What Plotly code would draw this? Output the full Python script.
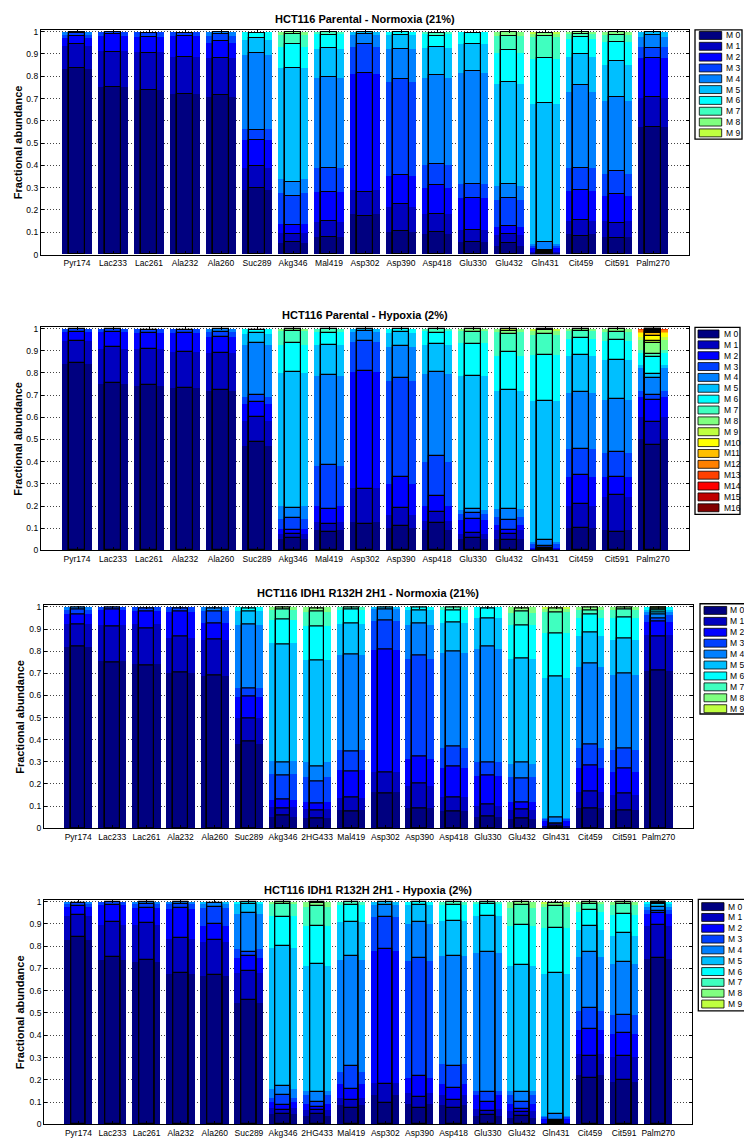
import plotly.graph_objects as go

# ---------------- data ----------------
CATS_A = ["Pyr174", "Lac233", "Lac261", "Ala232", "Ala260", "Suc289", "Akg346", "Mal419",
          "Asp302", "Asp390", "Asp418", "Glu330", "Glu432", "Gln431", "Cit459", "Cit591", "Palm270"]
CATS_B = ["Pyr174", "Lac233", "Lac261", "Ala232", "Ala260", "Suc289", "Akg346", "2HG433", "Mal419",
          "Asp302", "Asp390", "Asp418", "Glu330", "Glu432", "Gln431", "Cit459", "Cit591", "Palm270"]

TITLES = ["HCT116 Parental - Normoxia (21%)",
          "HCT116 Parental - Hypoxia (2%)",
          "HCT116 IDH1 R132H 2H1 - Normoxia (21%)",
          "HCT116 IDH1 R132H 2H1 - Hypoxia (2%)"]
Y_TITLE = "Fractional abundance"
ISO_LABELS = ["M 0", "M 1", "M 2", "M 3", "M 4", "M 5", "M 6", "M 7", "M 8", "M 9",
              "M10", "M11", "M12", "M13", "M14", "M15", "M16"]
Y_TICKS = [0, 0.1, 0.2, 0.3, 0.4, 0.5, 0.6, 0.7, 0.8, 0.9, 1]
Y_TICK_TEXT = ["0", "0.1", "0.2", "0.3", "0.4", "0.5", "0.6", "0.7", "0.8", "0.9", "1"]
TOTAL = 1.0  # every isotopologue distribution sums to 1

# Cumulative fractional abundance (top of M0, M0+M1, ...) per metabolite.
# "WIDE" = broad background bars, "NARROW" = outlined inner bars.
P1_WIDE = [
    [0.83, 0.935, 0.97, 0.985, 0.996],
    [0.751, 0.911, 0.98, 0.996],
    [0.74, 0.908, 0.975, 0.996],
    [0.72, 0.885, 0.98, 0.996],
    [0.707, 0.882, 0.95, 0.98, 0.996],
    [0.29, 0.39, 0.515, 0.565, 0.895, 0.96, 0.996],
    [0.05, 0.095, 0.135, 0.275, 0.34, 0.835, 0.93, 0.985, 0.996],
    [0.077, 0.145, 0.28, 0.39, 0.79, 0.92, 0.99, 0.996],
    [0.18, 0.29, 0.81, 0.93, 0.985, 0.996],
    [0.1, 0.215, 0.35, 0.775, 0.92, 0.985, 0.996],
    [0.09, 0.18, 0.3, 0.4, 0.79, 0.925, 0.99, 0.996],
    [0.055, 0.11, 0.255, 0.315, 0.815, 0.945, 0.996],
    [0.04, 0.085, 0.125, 0.245, 0.305, 0.765, 0.905, 0.98, 0.996],
    [0.004, 0.01, 0.03, 0.04, 0.045, 0.673, 0.878, 0.975, 0.99, 0.996],
    [0.09, 0.15, 0.285, 0.39, 0.73, 0.885, 0.965, 0.99, 0.996],
    [0.08, 0.15, 0.26, 0.36, 0.69, 0.85, 0.955, 0.985, 0.996],
    [0.571, 0.704, 0.88, 0.93, 0.975, 0.996],
]
P1_NARROW = [
    [0.838, 0.942, 0.982, 0.993, 0.998],
    [0.753, 0.909, 0.987, 0.997],
    [0.738, 0.906, 0.976, 0.993],
    [0.722, 0.888, 0.982, 0.995],
    [0.717, 0.883, 0.956, 0.99, 0.997],
    [0.298, 0.397, 0.513, 0.56, 0.902, 0.971, 0.995],
    [0.055, 0.093, 0.133, 0.263, 0.325, 0.837, 0.943, 0.99, 0.998],
    [0.078, 0.148, 0.282, 0.388, 0.798, 0.927, 0.985, 0.997],
    [0.174, 0.28, 0.812, 0.942, 0.99, 0.997],
    [0.105, 0.227, 0.355, 0.785, 0.922, 0.985, 0.997],
    [0.1, 0.18, 0.31, 0.405, 0.807, 0.93, 0.98, 0.995],
    [0.056, 0.11, 0.255, 0.317, 0.822, 0.942, 0.995],
    [0.05, 0.09, 0.128, 0.255, 0.318, 0.773, 0.917, 0.98, 0.997],
    [0.005, 0.012, 0.016, 0.02, 0.055, 0.68, 0.881, 0.98, 0.995],
    [0.082, 0.155, 0.287, 0.39, 0.759, 0.9, 0.975, 0.99, 0.998],
    [0.073, 0.143, 0.27, 0.375, 0.705, 0.87, 0.955, 0.985, 0.998],
    [0.573, 0.708, 0.882, 0.926, 0.985, 0.997],
]

P2_WIDE = [
    [0.839, 0.943, 0.984, 0.996],
    [0.75, 0.909, 0.985, 0.996],
    [0.742, 0.906, 0.98, 0.996],
    [0.73, 0.894, 0.98, 0.996],
    [0.717, 0.888, 0.96, 0.985, 0.996],
    [0.47, 0.585, 0.66, 0.69, 0.925, 0.975, 0.996],
    [0.05, 0.075, 0.095, 0.14, 0.2, 0.8, 0.925, 0.99, 0.996],
    [0.09, 0.13, 0.2, 0.38, 0.785, 0.925, 0.985, 0.996],
    [0.13, 0.28, 0.805, 0.94, 0.985, 0.996],
    [0.1, 0.16, 0.3, 0.763, 0.917, 0.98, 0.996],
    [0.092, 0.133, 0.2, 0.398, 0.793, 0.927, 0.987, 0.996],
    [0.05, 0.072, 0.137, 0.165, 0.18, 0.785, 0.935, 0.99, 0.996],
    [0.05, 0.09, 0.115, 0.15, 0.185, 0.72, 0.876, 0.985, 0.996],
    [0.003, 0.005, 0.01, 0.03, 0.04, 0.675, 0.879, 0.973, 0.99, 0.996],
    [0.1, 0.2, 0.33, 0.455, 0.71, 0.875, 0.955, 0.99, 0.996],
    [0.09, 0.24, 0.33, 0.44, 0.68, 0.86, 0.945, 0.985, 0.996],
    [0.502, 0.602, 0.693, 0.718, 0.82, 0.835, 0.89, 0.905, 0.95, 0.96, 0.978, 0.986, 0.992, 0.996],
]
P2_NARROW = [
    [0.843, 0.945, 0.985, 0.996],
    [0.756, 0.916, 0.985, 0.997],
    [0.745, 0.909, 0.98, 0.995],
    [0.733, 0.894, 0.98, 0.995],
    [0.723, 0.889, 0.96, 0.985, 0.997],
    [0.489, 0.6, 0.67, 0.7, 0.933, 0.98, 0.995],
    [0.057, 0.073, 0.093, 0.145, 0.192, 0.804, 0.933, 0.99, 0.997],
    [0.083, 0.12, 0.188, 0.383, 0.79, 0.925, 0.982, 0.996],
    [0.12, 0.278, 0.81, 0.942, 0.99, 0.997],
    [0.112, 0.189, 0.331, 0.775, 0.92, 0.984, 0.997],
    [0.122, 0.171, 0.244, 0.425, 0.803, 0.931, 0.979, 0.996],
    [0.057, 0.078, 0.142, 0.17, 0.186, 0.786, 0.932, 0.983, 0.996],
    [0.049, 0.072, 0.091, 0.136, 0.186, 0.723, 0.894, 0.976, 0.991, 0.998],
    [0.005, 0.01, 0.012, 0.02, 0.049, 0.675, 0.879, 0.975, 0.993, 0.998],
    [0.1, 0.211, 0.342, 0.457, 0.715, 0.882, 0.957, 0.99, 0.998],
    [0.085, 0.252, 0.331, 0.443, 0.681, 0.86, 0.95, 0.984, 0.997],
    [0.475, 0.577, 0.676, 0.70, 0.778, 0.793, 0.87, 0.885, 0.935, 0.946, 0.968, 0.978,
     0.985, 0.99, 0.994, 0.997, 0.999],
]

P3_WIDE = [
    [0.815, 0.919, 0.965, 0.985, 0.996],
    [0.754, 0.918, 0.985, 0.996],
    [0.742, 0.92, 0.978, 0.996],
    [0.698, 0.86, 0.975, 0.996],
    [0.684, 0.848, 0.925, 0.98, 0.996],
    [0.38, 0.495, 0.59, 0.63, 0.915, 0.98, 0.996],
    [0.05, 0.095, 0.125, 0.245, 0.303, 0.833, 0.94, 0.985, 0.996],
    [0.045, 0.085, 0.115, 0.23, 0.295, 0.76, 0.91, 0.975, 0.996],
    [0.08, 0.135, 0.26, 0.35, 0.78, 0.92, 0.985, 0.996],
    [0.161, 0.25, 0.805, 0.935, 0.99, 0.996],
    [0.09, 0.19, 0.31, 0.765, 0.915, 0.985, 0.996],
    [0.075, 0.14, 0.27, 0.36, 0.79, 0.925, 0.985, 0.996],
    [0.05, 0.1, 0.235, 0.295, 0.81, 0.95, 0.996],
    [0.04, 0.08, 0.115, 0.23, 0.29, 0.765, 0.915, 0.97, 0.996],
    [0.004, 0.01, 0.03, 0.04, 0.045, 0.676, 0.88, 0.975, 0.99, 0.996],
    [0.09, 0.16, 0.27, 0.36, 0.728, 0.865, 0.95, 0.985, 0.996],
    [0.08, 0.15, 0.25, 0.35, 0.69, 0.85, 0.95, 0.985, 0.996],
    [0.71, 0.87, 0.93, 0.96, 0.975, 0.985, 0.996],
]
P3_NARROW = [
    [0.821, 0.92, 0.965, 0.99, 0.997],
    [0.748, 0.912, 0.988, 0.997],
    [0.737, 0.905, 0.978, 0.995],
    [0.703, 0.866, 0.978, 0.993],
    [0.69, 0.855, 0.927, 0.982, 0.995],
    [0.39, 0.495, 0.595, 0.633, 0.92, 0.98, 0.995],
    [0.057, 0.09, 0.128, 0.237, 0.297, 0.832, 0.943, 0.99, 0.997],
    [0.045, 0.08, 0.113, 0.212, 0.277, 0.76, 0.912, 0.982, 0.995],
    [0.075, 0.138, 0.255, 0.347, 0.787, 0.924, 0.988, 0.997],
    [0.158, 0.254, 0.806, 0.938, 0.99, 0.997],
    [0.087, 0.2, 0.325, 0.78, 0.925, 0.985, 0.997],
    [0.077, 0.14, 0.278, 0.37, 0.8, 0.93, 0.985, 0.997],
    [0.055, 0.107, 0.237, 0.297, 0.82, 0.948, 0.993],
    [0.045, 0.085, 0.115, 0.227, 0.298, 0.766, 0.918, 0.982, 0.995],
    [0.005, 0.01, 0.015, 0.02, 0.049, 0.684, 0.88, 0.975, 0.993],
    [0.091, 0.164, 0.285, 0.38, 0.745, 0.885, 0.967, 0.985, 0.997],
    [0.082, 0.157, 0.27, 0.36, 0.70, 0.86, 0.955, 0.99, 0.997],
    [0.713, 0.865, 0.935, 0.95, 0.965, 0.975, 0.985, 0.99, 0.994, 0.997, 0.999],
]

P4_WIDE = [
    [0.829, 0.933, 0.975, 0.99, 0.996],
    [0.74, 0.896, 0.985, 0.996],
    [0.727, 0.895, 0.97, 0.99, 0.996],
    [0.676, 0.83, 0.965, 0.99, 0.996],
    [0.665, 0.82, 0.89, 0.97, 0.99, 0.996],
    [0.545, 0.68, 0.745, 0.785, 0.945, 0.99, 0.996],
    [0.045, 0.075, 0.1, 0.12, 0.16, 0.792, 0.935, 0.99, 0.996],
    [0.04, 0.065, 0.09, 0.13, 0.15, 0.713, 0.89, 0.975, 0.996],
    [0.085, 0.12, 0.18, 0.235, 0.74, 0.91, 0.985, 0.996],
    [0.13, 0.185, 0.78, 0.93, 0.985, 0.996],
    [0.09, 0.14, 0.21, 0.733, 0.9, 0.985, 0.996],
    [0.085, 0.13, 0.18, 0.27, 0.755, 0.915, 0.985, 0.996],
    [0.04, 0.07, 0.13, 0.15, 0.77, 0.935, 0.99, 0.996],
    [0.03, 0.06, 0.09, 0.13, 0.15, 0.71, 0.89, 0.97, 0.996],
    [0.004, 0.008, 0.025, 0.035, 0.04, 0.673, 0.88, 0.975, 0.99, 0.996],
    [0.221, 0.318, 0.422, 0.508, 0.752, 0.872, 0.955, 0.99, 0.996],
    [0.192, 0.303, 0.404, 0.489, 0.722, 0.845, 0.94, 0.985, 0.996],
    [0.741, 0.89, 0.942, 0.962, 0.975, 0.99, 0.996],
]
P4_NARROW = [
    [0.84, 0.94, 0.98, 0.995],
    [0.75, 0.908, 0.985, 0.997],
    [0.74, 0.905, 0.97, 0.99, 0.997],
    [0.678, 0.835, 0.97, 0.99, 0.997],
    [0.67, 0.827, 0.9, 0.977, 0.993],
    [0.56, 0.69, 0.755, 0.775, 0.95, 0.988, 0.997],
    [0.045, 0.064, 0.086, 0.13, 0.172, 0.8, 0.93, 0.99, 0.997],
    [0.045, 0.064, 0.076, 0.101, 0.146, 0.718, 0.892, 0.978, 0.993, 0.998],
    [0.075, 0.11, 0.16, 0.26, 0.755, 0.91, 0.985, 0.997],
    [0.094, 0.18, 0.787, 0.93, 0.985, 0.997],
    [0.075, 0.125, 0.217, 0.745, 0.91, 0.985, 0.997],
    [0.075, 0.11, 0.165, 0.26, 0.755, 0.915, 0.985, 0.997],
    [0.042, 0.061, 0.101, 0.146, 0.774, 0.936, 0.99, 0.997],
    [0.04, 0.055, 0.07, 0.1, 0.145, 0.715, 0.895, 0.985, 0.997],
    [0.005, 0.01, 0.015, 0.02, 0.049, 0.678, 0.881, 0.978, 0.993],
    [0.21, 0.306, 0.426, 0.522, 0.774, 0.89, 0.964, 0.991, 0.998],
    [0.199, 0.308, 0.41, 0.493, 0.727, 0.86, 0.942, 0.987, 0.998],
    [0.749, 0.897, 0.947, 0.957, 0.975, 0.987, 0.99, 0.994, 0.997, 0.999],
]

# ---------------- style ----------------
JET = ["#000080", "#0000BF", "#0000FF", "#0040FF", "#0080FF", "#00BFFF", "#00FFFF",
       "#40FFBF", "#80FF80", "#BFFF40", "#FFFF00", "#FFBF00", "#FF8000", "#FF4000",
       "#FF0000", "#BF0000", "#800000"]
TAIL_COLOR = "#D00000"
FONT = "Liberation Sans, Arial, sans-serif"
W, H = 744, 1141
WIDE_W, NARROW_W = 0.83, 0.43

# pixel layout: plot box (l, t, r, b), legend (l, t, r, b, first-entry y, step, swatch l, swatch r, text x)
PANELS = [
    dict(cats=CATS_A, wide=P1_WIDE, narrow=P1_NARROW, nleg=10,
         box=(41, 27.3, 689, 253.3), title_y=16, ytitle_x=18,
         leg=(695, 27, 742, 137, 32.7, 10.9, 699.3, 721.7, 724)),
    dict(cats=CATS_A, wide=P2_WIDE, narrow=P2_NARROW, nleg=17,
         box=(41, 326.3, 689, 551.3), title_y=314, ytitle_x=18,
         leg=(695, 326.7, 740, 515, 333.3, 10.94, 698, 719, 721.5)),
    dict(cats=CATS_B, wide=P3_WIDE, narrow=P3_NARROW, nleg=10,
         box=(44, 606.7, 692.7, 831), title_y=594, ytitle_x=20,
         leg=(700, 605, 748, 716, 611.7, 11.0, 704, 726.7, 728)),
    dict(cats=CATS_B, wide=P4_WIDE, narrow=P4_NARROW, nleg=10,
         box=(44.3, 903.3, 692.3, 1129.3), title_y=893, ytitle_x=20,
         leg=(698.3, 902.7, 748, 1015, 910, 10.9, 701.7, 724, 726)),
]


def px(x):
    return x / W


def py(y):
    return 1 - y / H


fig = go.Figure()
shapes, annotations = [], []
layout = {}

for i, p in enumerate(PANELS, start=1):
    xa = "x" if i == 1 else f"x{i}"
    ya = "y" if i == 1 else f"y{i}"
    cats = p["cats"]
    l, t, r, b = p["box"]

    # background (wide) bars: total first, then highest isotopologue down to M0
    fig.add_trace(go.Bar(x=cats, y=[TOTAL] * len(cats), width=WIDE_W, xaxis=xa, yaxis=ya,
                         marker=dict(color=TAIL_COLOR, line=dict(width=0)),
                         showlegend=False, hoverinfo="skip"))
    for rows, width, lw in ((p["wide"], WIDE_W, 0), (p["narrow"], NARROW_W, 1.2)):
        maxlen = max(len(rw) for rw in rows)
        for k in range(maxlen - 1, -1, -1):
            xs = [c for c, rw in zip(cats, rows) if len(rw) > k]
            ys = [rw[k] for rw in rows if len(rw) > k]
            fig.add_trace(go.Bar(x=xs, y=ys, width=width, xaxis=xa, yaxis=ya,
                                 name=ISO_LABELS[k],
                                 marker=dict(color=JET[k], line=dict(color="black", width=lw)),
                                 showlegend=False))

    n = len(cats)
    layout["xaxis" if i == 1 else f"xaxis{i}"] = dict(
        domain=[px(l), px(r)], anchor=ya, type="category",
        categoryorder="array", categoryarray=cats, range=[-1, n],
        tickmode="array", tickvals=cats, ticktext=cats, tickangle=0,
        showline=True, linecolor="black", linewidth=1.3, mirror="ticks",
        ticks="inside", ticklen=3, tickcolor="black", showgrid=False, zeroline=False,
        tickfont=dict(family=FONT, size=8.5, color="black"))
    layout["yaxis" if i == 1 else f"yaxis{i}"] = dict(
        domain=[py(b), py(t)], anchor=xa, range=[0, 1.007],
        tickmode="array", tickvals=Y_TICKS, ticktext=Y_TICK_TEXT,
        showline=True, linecolor="black", linewidth=1.3, mirror="ticks",
        ticks="inside", ticklen=3, tickcolor="black",
        showgrid=True, gridcolor="#444444", griddash="1px,2px", gridwidth=1, zeroline=False,
        tickfont=dict(family=FONT, size=8.5, color="black"))

    # panel title and y-axis title
    annotations.append(dict(text=f"<b>{TITLES[i - 1]}</b>", x=px((l + r) / 2), y=py(p["title_y"]),
                            xref="paper", yref="paper", showarrow=False, xanchor="center",
                            yanchor="middle", font=dict(family=FONT, size=11, color="black")))
    annotations.append(dict(text=f"<b>{Y_TITLE}</b>", x=px(p["ytitle_x"]), y=py((t + b) / 2),
                            xref="paper", yref="paper", showarrow=False, textangle=-90,
                            xanchor="center", yanchor="middle",
                            font=dict(family=FONT, size=11, color="black")))

    # legend box
    ll, lt, lr, lb, y0, step, sl, sr, tx = p["leg"]
    shapes.append(dict(type="rect", xref="paper", yref="paper", x0=px(ll), x1=px(lr),
                       y0=py(lb), y1=py(lt), line=dict(color="black", width=1.3),
                       fillcolor="white", layer="above"))
    for k in range(p["nleg"]):
        yc = y0 + k * step
        shapes.append(dict(type="rect", xref="paper", yref="paper", x0=px(sl), x1=px(sr),
                           y0=py(yc + 4), y1=py(yc - 4), fillcolor=JET[k],
                           line=dict(color="black", width=0.8), layer="above"))
        annotations.append(dict(text=ISO_LABELS[k], x=px(tx), y=py(yc), xref="paper", yref="paper",
                                showarrow=False, xanchor="left", yanchor="middle",
                                font=dict(family=FONT, size=8.5, color="black")))

fig.update_layout(
    width=W, height=H, margin=dict(l=0, r=0, t=0, b=0),
    barmode="overlay", bargap=0, showlegend=False,
    paper_bgcolor="white", plot_bgcolor="white",
    font=dict(family=FONT, color="black"),
    shapes=shapes, annotations=annotations, **layout)

fig.write_html("out.html")
